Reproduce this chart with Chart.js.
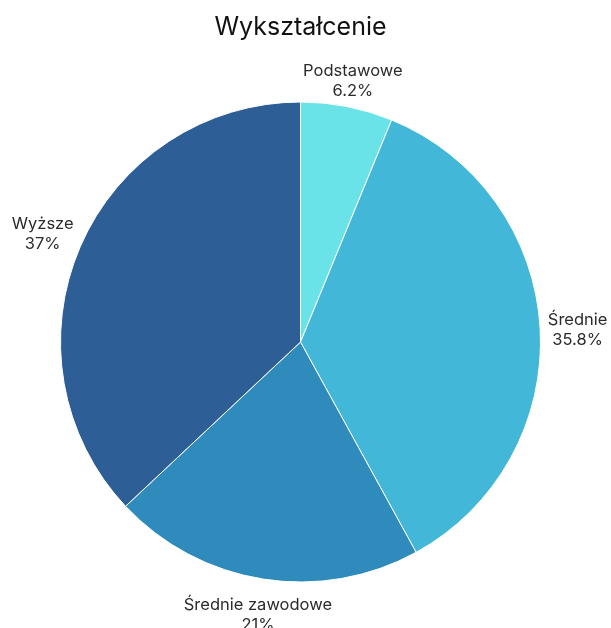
<!DOCTYPE html>
<html>
<head>
<meta charset="utf-8">
<script src="https://cdn.jsdelivr.net/npm/chart.js@4"></script>
<style>
  html, body { margin: 0; padding: 0; background: #fff; }
  #wrap { width: 611px; height: 628px; }
</style>
</head>
<body>
<div id="wrap"><canvas id="pie"></canvas></div>
<script>
const labels = ["Podstawowe", "Średnie", "Średnie zawodowe", "Wyższe"];
const values = [6.2, 35.8, 21, 37];
const colors = ["#6AE3E8", "#43B7D7", "#2E8BBC", "#2E5E96"];

// draws "name / value%" outside each slice
const outsideLabels = {
  id: "outsideLabels",
  afterDatasetsDraw(chart) {
    const ctx = chart.ctx;
    const meta = chart.getDatasetMeta(0);
    ctx.save();
    ctx.font = "16.5px Inter, 'Liberation Sans', sans-serif";
    ctx.fillStyle = "#2b2b2b";
    ctx.textAlign = "center";
    ctx.textBaseline = "middle";
    meta.data.forEach((arc, i) => {
      const mid = (arc.startAngle + arc.endAngle) / 2;
      const txt = [labels[i], values[i] + "%"];
      const w = Math.max(...txt.map(t => ctx.measureText(t).width));
      const c = Math.cos(mid), s = Math.sin(mid);
      const r = arc.outerRadius + 7 + Math.abs(c) * w / 2 + Math.abs(s) * 14;
      const x = arc.x + c * r;
      const y = arc.y + s * r + 4;
      ctx.fillText(txt[0], x, y - 10);
      ctx.fillText(txt[1], x, y + 10);
    });
    ctx.restore();
  }
};

new Chart(document.getElementById("pie"), {
  type: "pie",
  data: {
    labels: labels,
    datasets: [{
      data: values,
      backgroundColor: colors,
      borderColor: "#fff",
      borderWidth: 1
    }]
  },
  options: {
    responsive: true,
    maintainAspectRatio: false,
    animation: false,
    layout: { padding: { top: 0, bottom: 45, left: 60, right: 70 } },
    plugins: {
      legend: { display: false },
      tooltip: { enabled: false },
      title: {
        display: true,
        text: "Wykształcenie",
        color: "#111",
        font: { size: 25, weight: "normal", family: "Inter, 'Liberation Sans', sans-serif" },
        padding: { top: 12, bottom: 59 }
      }
    }
  },
  plugins: [outsideLabels]
});
</script>
</body>
</html>
